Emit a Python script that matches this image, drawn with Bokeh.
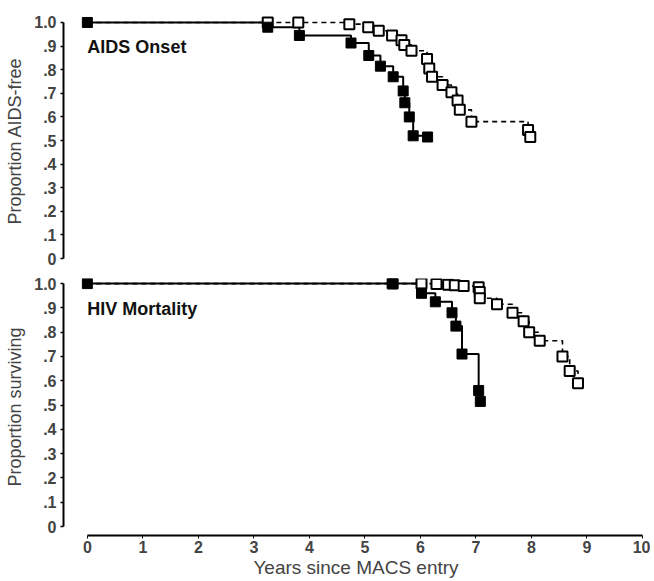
from bokeh.plotting import figure
from bokeh.layouts import column
from bokeh.models import FixedTicker, Label, Range1d
from bokeh.embed import file_html
from bokeh.resources import INLINE

# ---- data ----
aids_filled_x = [0, 3.25, 3.82, 4.75, 5.07, 5.28, 5.51, 5.69, 5.72, 5.80, 5.87, 6.13]
aids_filled_y = [1.0, 0.98, 0.945, 0.913, 0.86, 0.815, 0.77, 0.71, 0.66, 0.60, 0.52, 0.515]
aids_open_x = [0, 3.25, 3.80, 4.72, 5.06, 5.25, 5.49, 5.66, 5.71, 5.84, 6.12, 6.16, 6.21,
               6.40, 6.56, 6.67, 6.71, 6.92, 7.94, 7.98]
aids_open_y = [1.0, 1.0, 1.0, 0.993, 0.98, 0.965, 0.945, 0.925, 0.905, 0.88, 0.845, 0.805, 0.77,
               0.735, 0.705, 0.67, 0.63, 0.58, 0.545, 0.515]

mort_filled_x = [0, 5.50, 6.02, 6.27, 6.57, 6.64, 6.75, 7.05, 7.08]
mort_filled_y = [1.0, 1.0, 0.96, 0.925, 0.88, 0.825, 0.71, 0.56, 0.515]
mort_open_x = [0, 5.50, 6.02, 6.29, 6.50, 6.62, 6.78, 7.05, 7.07, 7.07, 7.38, 7.66,
               7.86, 7.96, 8.15, 8.56, 8.69, 8.84]
mort_open_y = [1.0, 1.0, 1.0, 0.998, 0.995, 0.993, 0.99, 0.985, 0.965, 0.94, 0.915, 0.88,
               0.845, 0.80, 0.765, 0.70, 0.64, 0.59]

y_ticks = [0, 0.1, 0.2, 0.3, 0.4, 0.5, 0.6, 0.7, 0.8, 0.9, 1.0]
y_tick_labels = ["0", ".1", ".2", ".3", ".4", ".5", ".6", ".7", ".8", ".9", "1.0"]
x_ticks = [0, 1, 2, 3, 4, 5, 6, 7, 8, 9, 10]

FONT = "Liberation Sans"


def make_panel(height, y_start, y_end, border_top, border_bottom, ylabel, title,
               fx, fy, ox, oy, show_x):
    p = figure(width=650, height=height, output_backend="svg", toolbar_location=None,
               x_range=Range1d(-0.43, 10.11), y_range=Range1d(y_start, y_end),
               min_border_left=63, min_border_right=2,
               min_border_top=border_top, min_border_bottom=border_bottom)
    p.outline_line_color = None
    p.grid.visible = False
    p.background_fill_color = "white"
    p.border_fill_color = "white"

    ya = p.yaxis[0]
    ya.ticker = FixedTicker(ticks=y_ticks)
    ya.major_label_overrides = {t: l for t, l in zip(y_ticks, y_tick_labels)}
    ya.bounds = (0, 1)
    ya.minor_tick_line_color = None
    ya.major_tick_in = 0
    ya.major_tick_out = 3
    ya.axis_line_width = 2
    ya.major_tick_line_width = 1.5
    ya.major_label_text_font = FONT
    ya.major_label_text_font_style = "bold"
    ya.major_label_text_font_size = "16px"
    ya.major_label_standoff = 4
    ya.axis_label = ylabel
    ya.axis_label_text_font = FONT
    ya.axis_label_text_font_style = "normal"
    ya.axis_label_text_font_size = "18px"
    ya.axis_label_standoff = 6

    xa = p.xaxis[0]
    if show_x:
        xa.ticker = FixedTicker(ticks=x_ticks)
        xa.bounds = (0, 10)
        xa.minor_tick_line_color = None
        xa.major_tick_in = 0
        xa.major_tick_out = 3
        xa.axis_line_width = 2
        xa.major_label_text_font = FONT
        xa.major_label_text_font_style = "bold"
        xa.major_label_text_font_size = "16px"
        xa.major_label_standoff = 2
        xa.axis_label = "Years since MACS entry"
        xa.axis_label_text_font = FONT
        xa.axis_label_text_font_style = "normal"
        xa.axis_label_text_font_size = "19px"
        xa.axis_label_standoff = 1
    else:
        xa.visible = False

    # open-square series (dashed)
    p.step(ox, oy, mode="after", line_color="black", line_width=1.6, line_dash="5 4")
    # filled-square series (solid)
    p.step(fx, fy, mode="after", line_color="black", line_width=2)
    p.scatter(ox[1:], oy[1:], marker="square", size=10, fill_color="white",
              line_color="black", line_width=2)
    p.scatter(fx, fy, marker="square", size=10, fill_color="black",
              line_color="black", line_width=1)

    p.add_layout(Label(x=0, y=0.895, text=title, text_font=FONT, text_font_size="18px",
                       text_font_style="bold", text_baseline="middle", text_align="left",
                       text_color="#111111"))
    return p


top = make_panel(273, -0.042, 1.038, 13, 5, "Proportion AIDS-free", "AIDS Onset",
                 aids_filled_x, aids_filled_y, aids_open_x, aids_open_y, False)
bottom = make_panel(308, -0.037, 1.021, 5, 46, "Proportion surviving", "HIV Mortality",
                    mort_filled_x, mort_filled_y, mort_open_x, mort_open_y, True)

layout = column(top, bottom, spacing=0)
open("out.html", "w").write(file_html(layout, INLINE))
